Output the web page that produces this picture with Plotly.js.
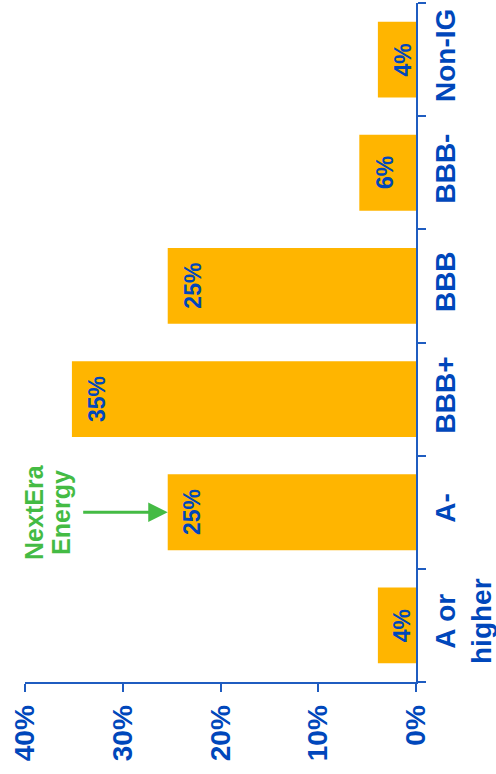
<!DOCTYPE html>
<html>
<head>
<meta charset="utf-8">
<script src="https://cdn.plot.ly/plotly-3.0.1.min.js"></script>
<style>html,body{margin:0;padding:0;background:#fff;}#chart{width:496px;height:774px;}</style>
</head>
<body>
<div id="chart"></div>
<script>
var categories = ['A or<br>higher', 'A-', 'BBB+', 'BBB', 'BBB-', 'Non-IG'];
var shareValues = [3.9, 25.4, 35.2, 25.4, 5.8, 3.9];
var barLabels = ['4%', '25%', '35%', '25%', '6%', '4%'];
var valueTicks = [0, 10, 20, 30, 40];
var valueTickLabels = ['0%', '10%', '20%', '30%', '40%'];
var calloutLines = ['NextEra', 'Energy'];
var calloutCategory = 'A-';
var calloutValue = 25.4;
var calloutTail = 34.2;

var FONT = 'Liberation Sans, Arial, Helvetica, sans-serif';
var BLUE = '#0047BB';
var AXIS = '#1F5CC0';
var BAR = '#FFB500';
var GREEN = '#44BB44';

var trace = {
  type: 'bar',
  orientation: 'h',
  y: categories,
  x: shareValues,
  marker: {color: BAR, line: {width: 0}},
  width: 0.67,
  hoverinfo: 'skip'
};

var annotations = categories.map(function (c, i) {
  return {
    x: shareValues[i], y: c, xref: 'x', yref: 'y',
    xanchor: 'center', yanchor: 'middle', xshift: 25,
    text: barLabels[i], showarrow: false, textangle: -90,
    font: {family: FONT, size: 23, color: BLUE, weight: 700}
  };
});

annotations.push({
  x: calloutValue, y: calloutCategory, xref: 'x', yref: 'y',
  ax: calloutTail, ay: calloutCategory, axref: 'x', ayref: 'y',
  text: '', showarrow: true, arrowhead: 2, arrowsize: 1.3, arrowwidth: 3,
  arrowcolor: GREEN, standoff: 0
});
var lineShifts = [-47, -20];
calloutLines.forEach(function (t, i) {
  annotations.push({
    x: calloutTail, y: calloutCategory, xref: 'x', yref: 'y',
    xanchor: 'center', yanchor: 'middle', xshift: lineShifts[i],
    text: t, showarrow: false, textangle: -90,
    font: {family: FONT, size: 25, color: GREEN, weight: 700}
  });
});

var layout = {
  width: 496,
  height: 774,
  margin: {l: 25, r: 80, t: 3, b: 92, pad: 0},
  paper_bgcolor: '#ffffff',
  plot_bgcolor: '#ffffff',
  showlegend: false,
  font: {family: FONT, color: BLUE},
  xaxis: {
    range: [40, 0],
    tickvals: valueTicks,
    ticktext: valueTickLabels,
    tickangle: -90,
    tickfont: {family: FONT, size: 28, color: BLUE, weight: 700},
    ticklabelstandoff: 2,
    showgrid: false,
    zeroline: false,
    showline: true,
    linecolor: AXIS,
    linewidth: 2,
    ticks: 'outside',
    ticklen: 8,
    tickwidth: 2,
    tickcolor: AXIS,
    fixedrange: true
  },
  yaxis: {
    type: 'category',
    categoryorder: 'array',
    categoryarray: categories,
    range: [-0.5, 5.5],
    side: 'right',
    tickangle: -90,
    tickson: 'boundaries',
    tickfont: {family: FONT, size: 28, color: BLUE, weight: 700},
    ticklabelstandoff: 3,
    showgrid: false,
    zeroline: false,
    showline: true,
    linecolor: AXIS,
    linewidth: 2,
    ticks: 'outside',
    ticklen: 8,
    tickwidth: 2,
    tickcolor: AXIS,
    fixedrange: true
  },
  annotations: annotations
};

Plotly.newPlot('chart', [trace], layout, {displayModeBar: false, staticPlot: true});
</script>
</body>
</html>
